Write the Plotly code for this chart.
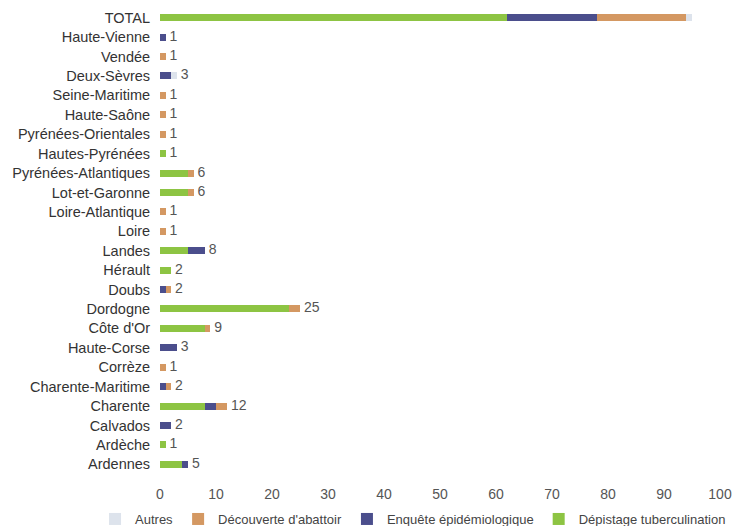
import plotly.graph_objects as go

categories = ["TOTAL", "Haute-Vienne", "Vendée", "Deux-Sèvres", "Seine-Maritime", "Haute-Saône",
              "Pyrénées-Orientales", "Hautes-Pyrénées", "Pyrénées-Atlantiques", "Lot-et-Garonne",
              "Loire-Atlantique", "Loire", "Landes", "Hérault", "Doubs", "Dordogne", "Côte d'Or",
              "Haute-Corse", "Corrèze", "Charente-Maritime", "Charente", "Calvados", "Ardèche", "Ardennes"]

depistage = [62, 0, 0, 0, 0, 0, 0, 1, 5, 5, 0, 0, 5, 2, 0, 23, 8, 0, 0, 0, 8, 0, 1, 4]
enquete   = [16, 1, 0, 2, 0, 0, 0, 0, 0, 0, 0, 0, 3, 0, 1, 0, 0, 3, 0, 1, 2, 2, 0, 1]
abattoir  = [16, 0, 1, 0, 1, 1, 1, 0, 1, 1, 1, 1, 0, 0, 1, 2, 1, 0, 1, 1, 2, 0, 0, 0]
autres    = [1, 0, 0, 1, 0, 0, 0, 0, 0, 0, 0, 0, 0, 0, 0, 0, 0, 0, 0, 0, 0, 0, 0, 0]
labels    = ["", "1", "1", "3", "1", "1", "1", "1", "6", "6", "1", "1", "8", "2", "2", "25", "9",
             "3", "1", "2", "12", "2", "1", "5"]
x_ticks = [0, 10, 20, 30, 40, 50, 60, 70, 80, 90, 100]

totals = [a + b + c + d for a, b, c, d in zip(depistage, enquete, abattoir, autres)]

fig = go.Figure()
series = [
    ("Dépistage tuberculination", depistage, "#8DC443"),
    ("Enquête épidémiologique", enquete, "#4B4E8C"),
    ("Découverte d'abattoir", abattoir, "#D49862"),
    ("Autres", autres, "#DDE3EC"),
]
for name, vals, color in series:
    fig.add_trace(go.Bar(name=name, y=categories, x=vals, orientation="h",
                         marker=dict(color=color, line=dict(width=0))))

fig.add_trace(go.Scatter(x=totals, y=categories, mode="text",
                         text=[(" " + t) if t else "" for t in labels],
                         textposition="middle right", showlegend=False,
                         textfont=dict(size=14, color="#555555"), cliponaxis=False,
                         hoverinfo="skip"))

n = len(categories)
fig.update_layout(
    barmode="stack",
    bargap=0.64,
    width=733, height=518,
    margin=dict(l=152, r=21, t=0, b=52, autoexpand=False),
    paper_bgcolor="white", plot_bgcolor="white",
    font=dict(family="Liberation Sans, Arial, sans-serif", size=14, color="#444444"),
    showlegend=True,
    legend=dict(orientation="h", x=-0.116, xanchor="left", y=-0.0966, yanchor="middle",
                traceorder="reversed", font=dict(size=13, color="#444444"),
                itemwidth=30, tracegroupgap=0, bgcolor="rgba(0,0,0,0)"),
    xaxis=dict(range=[0, 100], tickvals=x_ticks, showgrid=False, zeroline=False,
               showline=False, ticks="outside", ticklen=7, tickcolor="rgba(0,0,0,0)",
               tickfont=dict(size=14, color="#555555")),
    yaxis=dict(range=[n - 0.5, -0.5], showgrid=False, showline=False, ticks="outside",
               ticklen=6, tickcolor="rgba(0,0,0,0)", tickfont=dict(size=14.5, color="#333333")),
)

fig.write_html("out.html")
